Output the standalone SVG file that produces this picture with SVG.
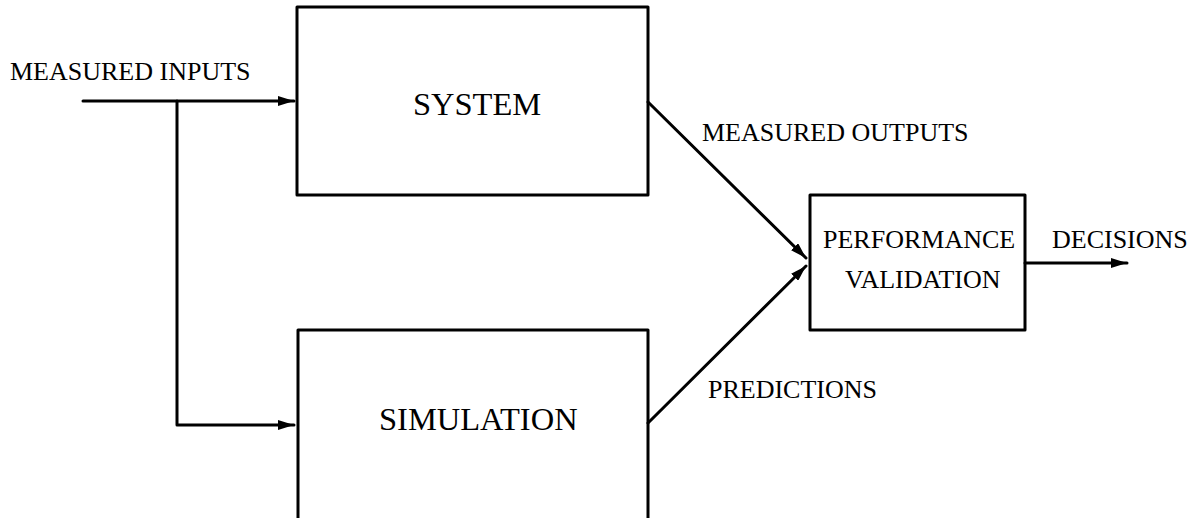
<svg xmlns="http://www.w3.org/2000/svg" width="1199" height="518" viewBox="0 0 1199 518">
<style>
.box{fill:#fff;stroke:#000;stroke-width:3;stroke-linejoin:round}
.ln{fill:none;stroke:#000;stroke-width:3;stroke-linecap:round;stroke-linejoin:round}
.t{font-family:"Liberation Serif","Times New Roman",serif;fill:#000}
.s{font-size:26px}
.b{font-size:32.5px}
</style>
<defs>
<marker id="ah" markerUnits="userSpaceOnUse" viewBox="0 0 16 10" refX="16" refY="5" markerWidth="16" markerHeight="10" orient="auto">
<path d="M0,0 L16,5 L0,10 z" fill="#000"/>
</marker>
</defs>
<rect width="1199" height="518" fill="#fff"/>
<g id="system">
<rect class="box" x="297" y="7" width="351" height="188"/>
<text class="t b" x="413" y="115">SYSTEM</text>
</g>
<g id="simulation">
<rect class="box" x="298" y="330" width="350" height="200"/>
<text class="t b" x="379" y="430">SIMULATION</text>
</g>
<g id="validation">
<rect class="box" x="810" y="195" width="215" height="135"/>
<text class="t s" x="823" y="248">PERFORMANCE</text>
<text class="t s" x="845" y="288">VALIDATION</text>
</g>
<g id="connectors">
<path class="ln" d="M83,101 L294,101" marker-end="url(#ah)"/>
<path class="ln" d="M177,101 L177,425 L294,425" marker-end="url(#ah)"/>
<path class="ln" d="M648,102 L806,258" marker-end="url(#ah)"/>
<path class="ln" d="M648,423 L806,266" marker-end="url(#ah)"/>
<path class="ln" d="M1025,263 L1127,263" marker-end="url(#ah)"/>
</g>
<g id="labels">
<text class="t s" x="10" y="80">MEASURED INPUTS</text>
<text class="t s" x="702" y="141">MEASURED OUTPUTS</text>
<text class="t s" x="708" y="398">PREDICTIONS</text>
<text class="t s" x="1052" y="248">DECISIONS</text>
</g>
</svg>
